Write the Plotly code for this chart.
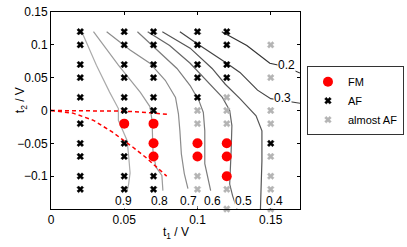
import plotly.graph_objects as go

# ---------------- data ----------------
af_t1 = [0.02]*10 + [0.05]*10 + [0.07]*8 + [0.1]*5 + [0.12]*4 + [0.15]
af_t2 = ([0.12, 0.1, 0.07, 0.05, 0.02, -0.02, -0.05, -0.07, -0.1, -0.12]
         + [0.12, 0.1, 0.07, 0.05, 0.02, 0, -0.05, -0.07, -0.1, -0.12]
         + [0.12, 0.1, 0.07, 0.05, 0.02, 0, -0.1, -0.12]
         + [0.12, 0.1, 0.07, 0.05, 0.02]
         + [0.12, 0.1, 0.07, 0.05]
         + [-0.05])

fm_t1 = [0.05, 0.07, 0.07, 0.07, 0.1, 0.1, 0.12, 0.12, 0.12]
fm_t2 = [-0.02, -0.02, -0.05, -0.07, -0.05, -0.07, -0.05, -0.07, -0.1]

alm_t1 = [0.1]*4 + [0.12]*5 + [0.15]*8
alm_t2 = ([0, -0.02, -0.1, -0.12]
          + [0.02, 0, -0.02, -0.12, -0.15]
          + [0.1, 0.05, 0, -0.02, -0.07, -0.1, -0.12, -0.15])

dash1_t1 = [0, 0.03, 0.05, 0.065, 0.08]
dash1_t2 = [0, 0, -0.001, -0.003, -0.006]
dash2_t1 = [0, 0.015, 0.029, 0.042, 0.056, 0.065, 0.079]
dash2_t2 = [0, -0.004, -0.015, -0.033, -0.056, -0.072, -0.1]

contour_levels = ["0.9", "0.8", "0.7", "0.6", "0.5", "0.4", "0.3", "0.2"]
contour_t1 = [
    [0.021, 0.031, 0.040, 0.046, 0.046, 0.050, 0.052, 0.053, 0.054, 0.053, 0.052],
    [0.029, 0.046, 0.061, 0.0675, 0.069, 0.0696, 0.0716, 0.0757, 0.0764],
    [0.038, 0.054, 0.0675, 0.078, 0.085, 0.087, 0.088, 0.089, 0.091, 0.0935],
    [0.059, 0.0675, 0.076, 0.086, 0.095, 0.101, 0.104, 0.105, 0.105, 0.107, 0.109],
    [0.066, 0.081, 0.095, 0.106, 0.117, 0.122, 0.1235, 0.123, 0.122, 0.124, 0.127],
    [0.076, 0.095, 0.110, 0.119, 0.129, 0.140, 0.144, 0.144, 0.143],
    [0.088, 0.0996, 0.12, 0.129, 0.141, 0.150, 0.17],
    [0.1166, 0.1337, 0.1494, 0.1596, 0.17],
]
contour_t2 = [
    [0.12, 0.069, 0.028, 0.003, -0.015, -0.034, -0.046, -0.069, -0.095, -0.112, -0.122],
    [0.12, 0.069, 0.0275, 0.006, -0.015, -0.061, -0.086, -0.099, -0.122],
    [0.12, 0.092, 0.072, 0.046, 0.020, -0.005, -0.031, -0.066, -0.096, -0.119],
    [0.12, 0.102, 0.084, 0.064, 0.038, 0.015, -0.003, -0.031, -0.081, -0.104, -0.122],
    [0.12, 0.099, 0.072, 0.046, 0.020, 0, -0.023, -0.061, -0.112, -0.13, -0.15],
    [0.12, 0.095, 0.064, 0.040, 0.018, -0.008, -0.031, -0.077, -0.15],
    [0.12, 0.102, 0.072, 0.058, 0.031, 0.018, 0.011],
    [0.12, 0.099, 0.072, 0.067, 0.057],
]
contour_colors = ["#ababab", "#9c9c9c", "#8c8c8c", "#7c7c7c", "#666666", "#555555", "#444444", "#333333"]
label_t1 = [0.0498, 0.0744, 0.094, 0.1105, 0.1317, 0.1528, 0.158, 0.161]
label_t2 = [-0.1376, -0.1376, -0.1376, -0.1376, -0.1376, -0.1376, 0.019, 0.069]

# ---------------- figure ----------------
fig = go.Figure()
for t1, t2, c in zip(contour_t1, contour_t2, contour_colors):
    fig.add_trace(go.Scatter(x=t1, y=t2, mode="lines", line=dict(color=c, width=1.2),
                             showlegend=False, hoverinfo="skip"))
fig.add_trace(go.Scatter(x=dash1_t1, y=dash1_t2, mode="lines",
                         line=dict(color="#ff0000", width=1.5, dash="4px,3px"), showlegend=False))
fig.add_trace(go.Scatter(x=dash2_t1, y=dash2_t2, mode="lines",
                         line=dict(color="#ff0000", width=1.5, dash="4px,3px"), showlegend=False))

fig.add_trace(go.Scatter(x=fm_t1, y=fm_t2, mode="markers", name="FM",
                         marker=dict(symbol="circle", size=10, color="#ff0000")))
fig.add_trace(go.Scatter(x=af_t1, y=af_t2, mode="markers", name="AF",
                         marker=dict(symbol="x", size=6, color="#000000",
                                     line=dict(width=0.4, color="#000000"))))
fig.add_trace(go.Scatter(x=alm_t1, y=alm_t2, mode="markers", name="almost AF",
                         marker=dict(symbol="x", size=6, color="#b4b4b4",
                                     line=dict(width=0.4, color="#b4b4b4")), cliponaxis=False))

for lab, lx, ly in zip(contour_levels, label_t1, label_t2):
    fig.add_annotation(x=lx, y=ly, text=lab, showarrow=False, bgcolor="white",
                       font=dict(size=12, color="#000"), borderpad=0)

fig.add_annotation(x=0.5, y=-0.122, xref="paper", yref="paper", text="t<sub>1</sub> / V",
                   showarrow=False, font=dict(size=12, color="#000"), yanchor="middle")
fig.add_annotation(x=-0.12, y=0.553, xref="paper", yref="paper", text="t<sub>2</sub> / V",
                   showarrow=False, font=dict(size=12, color="#000"), textangle=-90,
                   xanchor="center", yanchor="middle")

axis_common = dict(showline=True, linecolor="black", linewidth=1, mirror="ticks",
                   ticks="inside", ticklen=3, tickcolor="black", showgrid=False,
                   zeroline=False, tickfont=dict(size=12, color="#000"), automargin=False)
fig.update_xaxes(range=[0, 0.17], tickvals=[0, 0.05, 0.1, 0.15],
                 ticktext=["0", "0.05", "0.1", "0.15"], **axis_common)
fig.update_yaxes(range=[-0.15, 0.15], tickvals=[-0.1, -0.05, 0, 0.05, 0.1, 0.15],
                 ticktext=["\u22120.1", "\u22120.05", "0", "0.05", "0.1", "0.15"], **axis_common)

fig.update_layout(
    width=407, height=247,
    margin=dict(l=51, r=107, t=12, b=38, autoexpand=False),
    paper_bgcolor="white", plot_bgcolor="white",
    font=dict(family="Liberation Sans, Arial, sans-serif", size=12, color="#000"),
    legend=dict(x=1.028, y=0.725, xanchor="left", yanchor="top",
                bordercolor="#333", borderwidth=1, bgcolor="white",
                font=dict(size=11), itemwidth=30, tracegroupgap=0),
)
fig.write_html("out.html", config={"displayModeBar": False},
               post_script="document.body.style.margin='0';document.body.style.padding='0';")
